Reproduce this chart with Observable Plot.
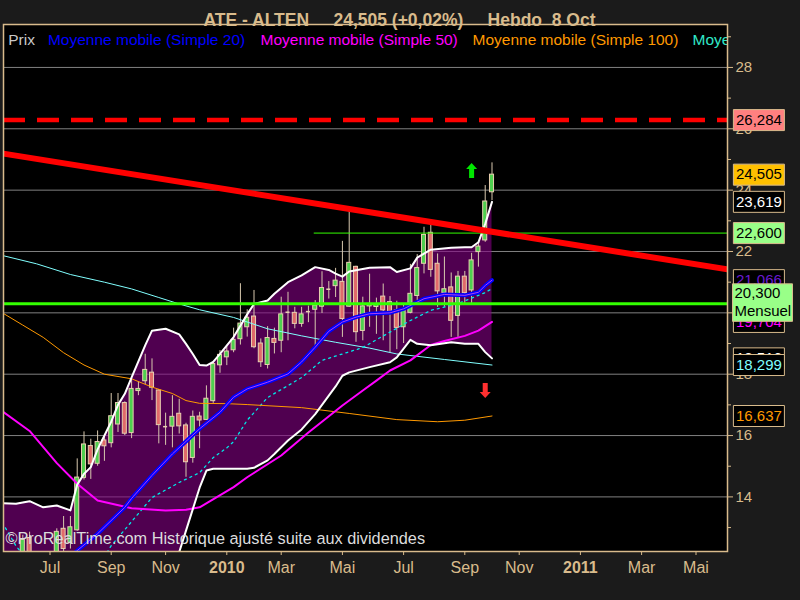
<!DOCTYPE html>
<html><head><meta charset="utf-8">
<script src="https://cdn.jsdelivr.net/npm/d3@7"></script>
<script src="https://cdn.jsdelivr.net/npm/@observablehq/plot@0.6"></script>
<style>
html,body{margin:0;padding:0;background:#1b1b1b;}
#chart{width:800px;height:600px;}
</style></head><body><div id="chart"></div>
<script>
// ---- weekly candles (ATE - ALTEN, weekly), week 0 = 2009-05-18
const opens  = [11.2,11.4,11.6,11.9,12.66,12.1,11.7,11.9,12.0,12.96, 12.5,12.91,14.62,15.66,15.08,15.84,15.75,16.36,17.06,16.08, 17.45,17.77,18.05,17.47,16.29,16.29,16.71,16.33,15.27,16.62, 16.51,17.12,18.29,18.55,18.78,19.14,19.53,19.88,19.00,18.30, 19.15,19.09,20.02,20.00,19.64,20.04,20.10,20.20,20.77,20.87, 21.01,20.20,21.50,19.41,20.21,20.19,20.53,20.35,20.08,19.53, 20.00,20.55,21.60,22.61,21.60,20.65,20.83,19.90,21.18,20.73, 21.98,22.36,23.93];
const highs  = [11.6,11.8,12.0,12.75,12.85,12.15,12.0,12.1,12.96,13.36, 13.36,15.24,16.12,15.88,16.15,16.02,17.37,17.37,17.1,17.85, 17.76,18.65,18.5,17.5,16.73,17.3,17.18,16.40,16.8,16.76, 17.62,18.40,18.77,18.90,19.50,20.95,20.10,20.73,19.15,19.55, 19.50,20.51,20.67,20.18,20.18,20.22,20.40,21.34,21.02,21.45, 22.33,23.32,21.52,20.51,21.26,20.48,20.94,20.53,20.38,20.29, 21.58,21.90,22.79,22.85,21.92,21.82,21.30,21.35,21.35,21.94, 22.30,24.15,24.89];
const lows   = [10.9,11.1,11.3,11.8,11.9,11.5,11.4,11.6,11.9,12.0, 12.3,12.88,14.55,14.57,15.0,15.16,15.6,16.1,16.0,15.9, 17.3,17.66,17.14,15.73,15.68,15.6,16.05,14.64,15.1,15.57, 16.49,17.05,18.03,18.28,18.70,18.95,19.21,18.83,18.22,18.17, 18.66,18.70,19.09,19.48,19.53,19.68,18.80,19.98,20.45,20.50, 19.20,20.18,19.04,19.09,19.53,19.30,19.09,18.70,18.80,19.00, 19.97,20.40,21.27,21.16,20.18,20.18,19.20,19.20,20.29,20.24, 21.49,22.30,23.66];
const closes = [11.4,11.6,11.9,12.6,12.1,11.7,11.9,12.0,12.86,12.3, 13.01,14.63,15.71,15.06,15.79,15.65,16.63,17.06,16.06,17.52, 17.52,18.14,17.56,16.34,16.29,16.61,16.30,15.13,16.61,16.49, 17.20,18.33,18.63,18.74,19.12,19.65,19.84,18.88,18.39,19.18, 19.02,19.95,20.02,19.64,19.95,20.04,20.24,20.81,20.77,21.05, 19.80,21.63,19.37,20.21,20.29,20.28,20.08,19.97,19.51,20.08, 20.62,21.46,22.54,21.40,20.70,20.77,19.74,21.18,20.64,21.71, 22.16,23.63,24.505];

// ---- Bollinger bands (week index, upper, lower)
const bandWeeks = [0,2,4,6,8,10,11,12,13,14,16,17,18,19,21,22,24,26,27,28,29,30,31,32,34,36,37,39,40,42,44,46,48,49,50,51,54,57,58,60,61,63,66,68,69,70,71,72];
const bandUpper = [13.79,13.78,13.86,13.66,13.72,13.56,14.40,14.75,14.97,15.55,16.45,17.00,17.36,17.90,18.94,19.42,19.48,19.30,18.99,18.66,18.30,18.28,18.40,18.66,19.21,19.95,20.29,20.40,20.62,21.00,21.22,21.49,21.40,21.28,21.18,21.35,21.47,21.49,21.33,21.45,21.80,22.06,22.12,22.14,22.14,22.30,22.90,23.619];
const bandLower = [11.6,11.5,11.4,11.3,11.2,11.0,10.8,10.6,10.5,10.4,10.3,10.2,10.2,10.2,10.3,10.5,11.2,12.2,12.9,13.6,14.3,14.86,14.92,14.92,14.92,14.92,14.95,15.19,15.4,15.84,16.2,16.7,17.30,17.6,17.95,18.06,18.23,18.39,18.55,19.12,18.99,18.94,19.04,18.99,18.99,18.99,18.72,18.516];

// ---- moving averages: [week index, value]
const ma20 = [[8,11.6],[11,12.25],[14,12.8],[18,13.66],[19,13.95],[22,14.7],[25,15.4],[29,16.22],[32,16.76],[34,17.25],[36,17.52],[39,17.74],[42,18.01],[44,18.4],[46,18.88],[48,19.4],[50,19.7],[52,19.86],[54,19.97],[57,20.0],[59,20.13],[62,20.46],[65,20.6],[68,20.57],[70,20.67],[71,20.89],[72,21.066]];
const ma50 = [[0,16.79],[4,16.15],[8,15.1],[11,14.43],[14,13.88],[19,13.63],[24,13.56],[27,13.58],[29,13.66],[34,14.32],[36,14.64],[41,15.35],[45,16.1],[50,16.98],[53,17.47],[55,17.79],[57,18.12],[60,18.45],[63,18.95],[65,19.08],[68,19.25],[70,19.42],[72,19.704]];
const ma100 = [[0,20.0],[3,19.6],[6,19.2],[9,18.7],[12,18.3],[15,18.0],[19,17.85],[22,17.58],[25,17.37],[27,17.14],[29,17.05],[33,17.04],[36,17.01],[44,16.91],[51,16.72],[58,16.52],[64,16.45],[68,16.5],[72,16.637]];
const ma200 = [[0,21.87],[5,21.6],[10,21.25],[15,21.0],[19,20.78],[23,20.5],[26,20.29],[29,20.1],[34,19.85],[39,19.48],[44,19.25],[49,19.04],[54,18.85],[58,18.66],[65,18.48],[72,18.299]];
const cyanDashed = [[0,13.16],[2,12.4],[5,11.6],[10,11.2],[14,11.7],[16,12.41],[22,13.98],[26,14.47],[29,14.79],[31,15.28],[33,15.6],[34,15.8],[36,16.5],[39,17.24],[44,17.89],[47,18.45],[53,18.87],[60,19.75],[63,20.08],[67,20.30],[71,20.66],[72,20.79]];

// ---- drawn objects
const trendDates = ["2009-05-19","2011-08-17"];
const trendValues = [25.19, 21.04];
const resistance = 26.284;
const support = 20.3;
const breakout = {value: 22.6, from: "2010-04-04"};
const arrowWeeks = [69, 71];
const arrowValues = [24.64, 17.47];

// ---- right-hand value labels
const labelValues = [26.284, 24.505, 23.619, 22.6, 21.066, 19.704, 18.516, 18.299, 16.637];
const labelTexts  = ["26,284","24,505","23,619","22,600","21,066","19,704","18,516","18,299","16,637"];
const labelBg     = ["#ff8080","#ffc000","#000000","#99ff88","#000000","#000000","#000000","#000000","#000000"];
const labelFg     = ["#000000","#000000","#ffffff","#000000","#6a1ad0","#ff00ff","#ffffff","#80ffff","#ff9900"];

// ---- axes
const yTicks = [14,16,18,20,22,24,26,28];
const yMinor = [13,15,17,19,21,23,25,27,29];
const monthTicks = ["2009-07-06","2009-09-07","2009-11-02","2010-03-01","2010-05-03","2010-07-05","2010-09-06","2010-11-01","2011-03-07","2011-05-02"];
const monthLabels = ["Jul","Sep","Nov","Mar","Mai","Jul","Sep","Nov","Mar","Mai"];
const yearTicks = ["2010-01-04","2011-01-03"];
const yearLabels = ["2010","2011"];

const legendNames = ["Prix","Moyenne mobile (Simple 20)","Moyenne mobile (Simple 50)","Moyenne mobile (Simple 100)","Moyenne mobile (Simple 200)"];
const legendColors = ["#c8c8c8","#0000ff","#ff00ff","#ff9900","#30e8c8"];
const legendOffsets = [4.7, 44.4, 257, 469, 689];

const titleText = "ATE - ALTEN\u00a0\u00a0\u00a0\u00a0\u00a024,505 (+0,02%)\u00a0\u00a0\u00a0\u00a0\u00a0Hebdo\u00a0\u00a08 Oct";
const copyright = "©ProRealTime.com Historique ajusté suite aux dividendes";

// ---------------------------------------------------------------
const tan = "#d9bb8c";
const weeks = d3.utcMonday.range(new Date("2009-05-18"), new Date("2010-10-05"));
const candles = weeks.map((d, i) => ({date: d, open: opens[i], high: highs[i], low: lows[i], close: closes[i]}));
const bodies = candles.filter(d => Math.abs(d.close - d.open) > 0.001);
const dojis = candles.filter(d => Math.abs(d.close - d.open) <= 0.001);
const band = bandWeeks.map((w, i) => ({date: weeks[w], upper: bandUpper[i], lower: bandLower[i]}));
const pts = pairs => pairs.map(([w, v]) => ({date: weeks[w], value: v}));
const trend = trendDates.map((d, i) => ({date: new Date(d), value: trendValues[i]}));
const half = 50; // hours
const monthMap = new Map(monthTicks.map((t, i) => [+new Date(t), monthLabels[i]]));
const yearMap = new Map(yearTicks.map((t, i) => [+new Date(t), yearLabels[i]]));
const xDomain = [new Date("2009-05-19T03:00Z"), new Date("2011-06-03T10:00Z")];

const upArrow = {draw(c){c.moveTo(0,-7.5);c.lineTo(5.5,-1.5);c.lineTo(2.5,-1.5);c.lineTo(2.5,7.5);c.lineTo(-2.5,7.5);c.lineTo(-2.5,-1.5);c.lineTo(-5.5,-1.5);c.closePath();}};
const downArrow = {draw(c){c.moveTo(0,7.5);c.lineTo(5.5,1.5);c.lineTo(2.5,1.5);c.lineTo(2.5,-7.5);c.lineTo(-2.5,-7.5);c.lineTo(-2.5,1.5);c.lineTo(-5.5,1.5);c.closePath();}};
const box = {draw(c){c.rect(-25.5,-10.5,51,21);}};
const tallBox = {draw(c){c.rect(-30,-19.8,60,37.5);}};

const labelMarks = labelValues.flatMap((v, i) => [
  Plot.dot([v], {y: d => d, frameAnchor: "right", dx: 31.4, symbol: box, fill: labelBg[i], stroke: tan, strokeWidth: 1}),
  Plot.text([v], {y: d => d, text: () => labelTexts[i], frameAnchor: "right", dx: 31.4, fill: labelFg[i], fontSize: 15, textAnchor: "middle"})
]);

const chart = Plot.plot({
  width: 800, height: 600,
  marginTop: 24, marginRight: 73, marginBottom: 49, marginLeft: 3,
  x: {type: "utc", domain: xDomain},
  y: {domain: [12.22, 29.40]},
  color: {type: "identity"},
  style: {background: "#1b1b1b", color: tan, fontFamily: "'Liberation Sans', Arial, sans-serif"},
  marks: [
    Plot.frame({fill: "black", stroke: null}),
    Plot.gridY(yTicks, {stroke: "#808080", strokeOpacity: 1}),
    Plot.areaY(band, {x: "date", y1: "lower", y2: "upper", fill: "#850085", fillOpacity: 0.6, clip: true}),
    Plot.ruleX(candles, {x: "date", y1: "low", y2: "high", stroke: "#d8c8ae", strokeWidth: 1, clip: true}),
    Plot.rect(bodies, {x1: d => d3.utcHour.offset(d.date, -half), x2: d => d3.utcHour.offset(d.date, half), y1: "open", y2: "close",
      fill: d => d.close > d.open ? "#4fcf4f" : "#e06a6a", stroke: "#e8cfb0", strokeWidth: 1, clip: true}),
    Plot.ruleY(dojis, {y: "open", x1: d => d3.utcHour.offset(d.date, -half), x2: d => d3.utcHour.offset(d.date, half), stroke: "#e8cfb0", strokeWidth: 1.5, clip: true}),
    Plot.line(pts(ma200), {x: "date", y: "value", stroke: "#80ffff", strokeWidth: 1, clip: true}),
    Plot.line(pts(cyanDashed), {x: "date", y: "value", stroke: "#00e8e8", strokeWidth: 1.3, strokeDasharray: "2,4", clip: true}),
    Plot.line(pts(ma100), {x: "date", y: "value", stroke: "#ff9900", strokeWidth: 1, clip: true}),
    Plot.line(pts(ma50), {x: "date", y: "value", stroke: "#ff00ff", strokeWidth: 2, clip: true}),
    Plot.line(pts(ma20), {x: "date", y: "value", stroke: "#0000ff", strokeWidth: 4, clip: true}),
    Plot.line(pts(ma20), {x: "date", y: "value", stroke: "#b040f0", strokeWidth: 1, clip: true}),
    Plot.line(band, {x: "date", y: "upper", stroke: "white", strokeWidth: 2, clip: true}),
    Plot.line(band, {x: "date", y: "lower", stroke: "white", strokeWidth: 2, clip: true}),
    Plot.ruleY([resistance], {stroke: "#ff0000", strokeWidth: 4.5, strokeDasharray: "22,12"}),
    Plot.ruleY([support], {stroke: "#33ff00", strokeWidth: 3}),
    Plot.ruleY([{y: breakout.value, x1: new Date(breakout.from), x2: xDomain[1]}], {y: "y", x1: "x1", x2: "x2", stroke: "#33ff00", strokeWidth: 1}),
    Plot.line(trend, {x: "date", y: "value", stroke: "#ff0000", strokeWidth: 6, clip: true}),
    Plot.dot([0], {x: () => weeks[arrowWeeks[0]], y: () => arrowValues[0], symbol: upArrow, fill: "#00e600", stroke: null}),
    Plot.dot([0], {x: () => weeks[arrowWeeks[1]], y: () => arrowValues[1], symbol: downArrow, fill: "#ff3030", stroke: null}),
    ...legendNames.map((n, i) => Plot.text([n], {text: d => d, frameAnchor: "top-left", dx: legendOffsets[i], dy: 9, fill: legendColors[i], fontSize: 15.5, textAnchor: "start", clip: true})),
    Plot.text([copyright], {text: d => d, frameAnchor: "bottom-left", dx: 2, dy: -8, fill: "#dcdcdc", fontSize: 16.3, textAnchor: "start"}),
    Plot.text([titleText], {text: d => d, frameAnchor: "top", dx: 34, dy: -11, fill: tan, fontSize: 17.5, fontWeight: "bold"}),
    Plot.frame({stroke: tan, strokeWidth: 1.5}),
    Plot.axisY({anchor: "right", ticks: yTicks, tickSize: 5, tickPadding: 3, fontSize: 15, label: null, color: tan}),
    Plot.axisY({anchor: "right", ticks: yMinor, tickSize: 3, tickFormat: () => "", label: null, color: tan}),
    Plot.axisX({anchor: "bottom", ticks: monthTicks.map(t => new Date(t)), tickFormat: d => monthMap.get(+d), tickSize: 4, tickPadding: 5.7, fontSize: 16, label: null, color: tan}),
    Plot.axisX({anchor: "bottom", ticks: yearTicks.map(t => new Date(t)), tickFormat: d => yearMap.get(+d), tickSize: 4, tickPadding: 5.7, fontSize: 16, fontWeight: "bold", label: null, color: tan}),
    ...labelMarks,
    Plot.dot([support], {y: d => d, frameAnchor: "right", dx: 35, symbol: tallBox, fill: "#99ff88", stroke: tan, strokeWidth: 1}),
    Plot.text([support], {y: d => d, text: () => "20,300", frameAnchor: "right", dx: 7, dy: -10.6, fill: "#000", fontSize: 15, textAnchor: "start"}),
    Plot.text([support], {y: d => d, text: () => "Mensuel", frameAnchor: "right", dx: 7, dy: 8, fill: "#000", fontSize: 15, textAnchor: "start"})
  ]
});
document.getElementById("chart").append(chart);
</script>
</body></html>
